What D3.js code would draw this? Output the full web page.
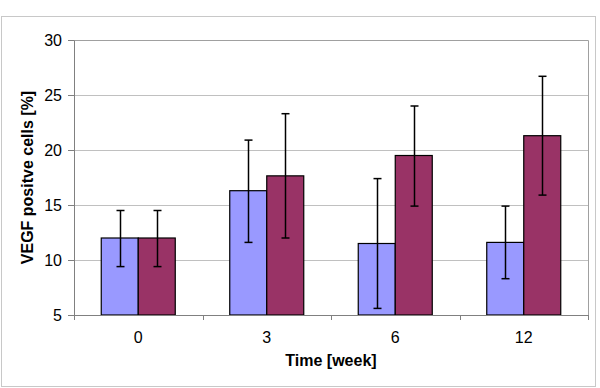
<!DOCTYPE html>
<html>
<head>
<meta charset="utf-8">
<script src="https://cdn.jsdelivr.net/npm/d3@7"></script>
<style>
  body { margin: 0; background: #fff; }
  text { font-family: Arial, "Liberation Sans", sans-serif; }
</style>
</head>
<body>
<div id="chart"></div>
<script>
var weeks = ["0", "3", "6", "12"];
var controlMean = [12.0, 16.3, 11.5, 11.6];
var controlHi = [14.5, 20.9, 17.4, 14.9];
var controlLo = [9.4, 11.6, 5.6, 8.3];
var treatedMean = [12.0, 17.65, 19.5, 21.3];
var treatedHi = [14.5, 23.3, 24.0, 26.7];
var treatedLo = [9.4, 12.0, 14.9, 15.9];
var yTicks = [5, 10, 15, 20, 25, 30];

var W = 600, H = 388;
var margin = {top: 40, right: 12, bottom: 73, left: 74},
    width = W - margin.left - margin.right,
    height = H - margin.top - margin.bottom;

var svg = d3.select("#chart").append("svg")
    .attr("width", W).attr("height", H);

// outer frame
svg.append("rect")
    .attr("x", 1.5).attr("y", 16.5)
    .attr("width", 594).attr("height", 370)
    .attr("fill", "none").attr("stroke", "#c8c8c8");

var g = svg.append("g")
    .attr("transform", "translate(" + margin.left + "," + margin.top + ")");

var x = d3.scaleBand().domain(weeks).range([0, width]);
var y = d3.scaleLinear().domain([5, 30]).range([height, 0]);

// grid
g.selectAll(".grid").data(yTicks.slice(1, -1)).enter().append("line")
    .attr("x1", 0).attr("x2", width)
    .attr("y1", function(d) { return Math.round(y(d)) + 0.5; })
    .attr("y2", function(d) { return Math.round(y(d)) + 0.5; })
    .attr("stroke", "#c0c0c0");

// plot border top + right
g.append("path")
    .attr("d", "M0,0.5H" + (width + 0.5) + "V" + height)
    .attr("fill", "none").attr("stroke", "#a0a0a0");

var barW = 37;
var series = [
  {mean: controlMean, hi: controlHi, lo: controlLo, color: "#9999FF", off: -barW},
  {mean: treatedMean, hi: treatedHi, lo: treatedLo, color: "#993366", off: 0}
];

series.forEach(function(s) {
  var bars = g.append("g");
  weeks.forEach(function(w, i) {
    var cx = x(w) + x.bandwidth() / 2 + s.off;
    bars.append("rect")
      .attr("x", cx).attr("y", y(s.mean[i]))
      .attr("width", barW).attr("height", height - y(s.mean[i]))
      .attr("fill", s.color).attr("stroke", "#000").attr("stroke-width", 1.2);
  });
});

series.forEach(function(s) {
  weeks.forEach(function(w, i) {
    var mx = Math.round(x(w) + x.bandwidth() / 2 + s.off + barW / 2) + 0.5;
    var eg = g.append("g").attr("stroke", "#000").attr("stroke-width", 1.5);
    eg.append("line").attr("x1", mx).attr("x2", mx)
      .attr("y1", y(s.hi[i])).attr("y2", y(s.lo[i]));
    [s.hi[i], s.lo[i]].forEach(function(v) {
      eg.append("line").attr("x1", mx - 4).attr("x2", mx + 4)
        .attr("y1", y(v)).attr("y2", y(v));
    });
  });
});

// y axis
var yAxis = g.append("g")
    .call(d3.axisLeft(y).tickValues(yTicks).tickSize(6).tickSizeOuter(0));
yAxis.select(".domain").attr("stroke", "#808080");
yAxis.selectAll(".tick line").attr("stroke", "#808080");
yAxis.selectAll("text").attr("font-size", 16).attr("fill", "#000").attr("x", -12);

// x axis
var xAxis = g.append("g").attr("transform", "translate(0," + height + ")");
xAxis.append("line").attr("x1", 0).attr("x2", width + 0.5)
    .attr("y1", 0.5).attr("y2", 0.5).attr("stroke", "#808080");
xAxis.selectAll(".xt").data(weeks.concat(["end"])).enter().append("line")
    .attr("x1", function(d, i) { return Math.round(i * x.step()) + 0.5; })
    .attr("x2", function(d, i) { return Math.round(i * x.step()) + 0.5; })
    .attr("y1", 0).attr("y2", 5).attr("stroke", "#808080");
xAxis.selectAll(".xl").data(weeks).enter().append("text")
    .attr("x", function(d) { return x(d) + x.bandwidth() / 2; })
    .attr("y", 28)
    .attr("text-anchor", "middle").attr("font-size", 16).text(function(d) { return d; });

// titles
svg.append("text")
    .attr("x", margin.left + width / 2).attr("y", 366)
    .attr("text-anchor", "middle").attr("font-size", 16).attr("font-weight", "bold")
    .text("Time [week]");
svg.append("text")
    .attr("transform", "translate(33," + (margin.top + height / 2) + ") rotate(-90)")
    .attr("text-anchor", "middle").attr("font-size", 16).attr("font-weight", "bold")
    .text("VEGF positve cells [%]");
</script>
</body>
</html>
